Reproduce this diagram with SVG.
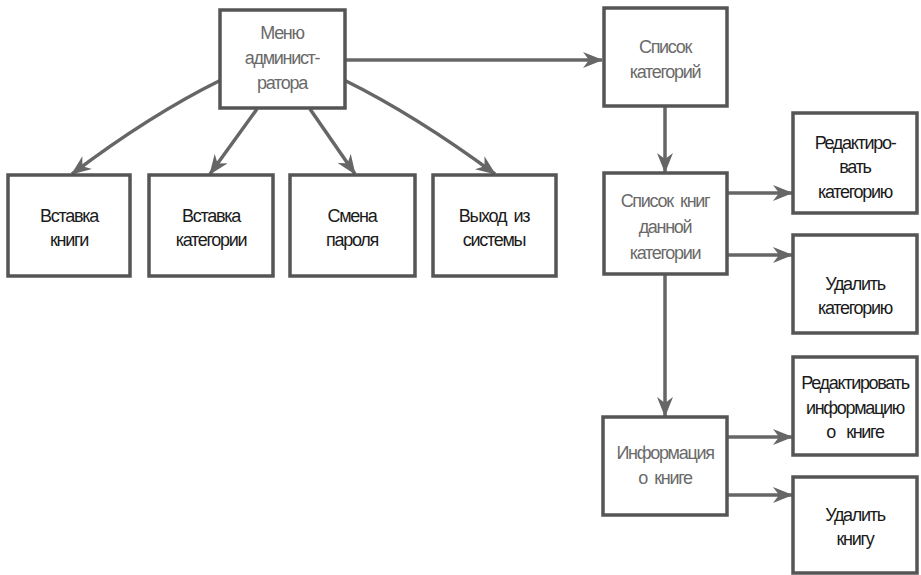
<svg xmlns="http://www.w3.org/2000/svg" width="921" height="575" viewBox="0 0 921 575">
<style>
.box{fill:#fff;stroke:#555;stroke-width:3.5}
.t{font-family:"Liberation Sans",Arial,sans-serif;font-size:18px;letter-spacing:-1.3px;text-anchor:middle;fill:#1a1a1a;white-space:pre}
.g{fill:#6a6a6a}
.c{fill:none;stroke:#666;stroke-width:3.5}
</style>
<defs>
<marker id="ah" markerWidth="20" markerHeight="16" refX="19" refY="8" orient="auto" markerUnits="userSpaceOnUse">
<path d="M0,0 L20,8 L0,16 L6,8 Z" fill="#666"/>
</marker>
</defs>
<rect width="921" height="575" fill="#fff"/>
<g id="connectors">
<path class="c" d="M345,60 L602,60" marker-end="url(#ah)"/>
<path class="c" d="M221,80 Q150,115 72,174" marker-end="url(#ah)"/>
<path class="c" d="M257,109 L210,174" marker-end="url(#ah)"/>
<path class="c" d="M310,109 L355,174" marker-end="url(#ah)"/>
<path class="c" d="M344,80 Q415,115 495,174" marker-end="url(#ah)"/>
<path class="c" d="M665,106 L665,172" marker-end="url(#ah)"/>
<path class="c" d="M727,193 L792,193" marker-end="url(#ah)"/>
<path class="c" d="M727,255 L792,255" marker-end="url(#ah)"/>
<path class="c" d="M665,274 L665,416" marker-end="url(#ah)"/>
<path class="c" d="M727,437 L792,437" marker-end="url(#ah)"/>
<path class="c" d="M727,495 L792,495" marker-end="url(#ah)"/>
</g>
<g id="menu">
<rect class="box" x="220" y="10" width="125" height="98"/>
<text class="t g" x="282" y="39">Меню</text>
<text class="t g" x="282" y="64">админист-</text>
<text class="t g" x="282" y="89">ратора</text>
</g>
<g id="insert-book">
<rect class="box" x="8" y="175" width="122" height="101"/>
<text class="t" x="69" y="222">Вставка</text>
<text class="t" x="69" y="246">книги</text>
</g>
<g id="insert-category">
<rect class="box" x="149" y="175" width="124" height="101"/>
<text class="t" x="211" y="222">Вставка</text>
<text class="t" x="211" y="246">категории</text>
</g>
<g id="change-password">
<rect class="box" x="290" y="175" width="125" height="101"/>
<text class="t" x="352" y="222">Смена</text>
<text class="t" x="352" y="246">пароля</text>
</g>
<g id="logout">
<rect class="box" x="433" y="175" width="123" height="101"/>
<text class="t" x="494" y="222">Выход  из</text>
<text class="t" x="494" y="246">системы</text>
</g>
<g id="category-list">
<rect class="box" x="604" y="8" width="123" height="98"/>
<text class="t g" x="665" y="53">Список</text>
<text class="t g" x="665" y="78">категорий</text>
</g>
<g id="books-in-category">
<rect class="box" x="604" y="173" width="123" height="101"/>
<text class="t g" x="665" y="207">Список  книг</text>
<text class="t g" x="665" y="233">данной</text>
<text class="t g" x="665" y="259">категории</text>
</g>
<g id="edit-category">
<rect class="box" x="793" y="113" width="124" height="100"/>
<text class="t" x="855" y="149">Редактиро-</text>
<text class="t" x="855" y="173">вать</text>
<text class="t" x="855" y="198">категорию</text>
</g>
<g id="delete-category">
<rect class="box" x="793" y="235" width="124" height="98"/>
<text class="t" x="855" y="290">Удалить</text>
<text class="t" x="855" y="314">категорию</text>
</g>
<g id="book-info">
<rect class="box" x="603" y="417" width="124" height="98"/>
<text class="t g" x="665" y="459">Информация</text>
<text class="t g" x="665" y="484">о  книге</text>
</g>
<g id="edit-book-info">
<rect class="box" x="793" y="357" width="124" height="98"/>
<text class="t" x="855" y="389">Редактировать</text>
<text class="t" x="855" y="414">информацию</text>
<text class="t" x="855" y="438">о   книге</text>
</g>
<g id="delete-book">
<rect class="box" x="793" y="477" width="124" height="96"/>
<text class="t" x="855" y="521">Удалить</text>
<text class="t" x="855" y="545">книгу</text>
</g>
</svg>
